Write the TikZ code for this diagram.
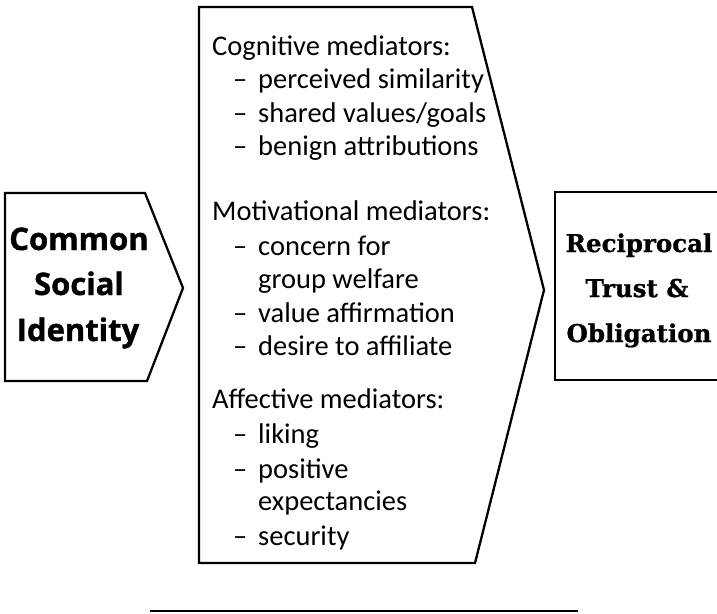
\documentclass[tikz,border=0pt]{standalone}
\usepackage{fontspec}
\setmainfont{Carlito}
\newfontfamily\labelsans[BoldFeatures={FakeBold=1.2}]{Open Sans}
\newfontfamily\labelserif[BoldFeatures={FakeBold=1}]{DejaVu Serif}
\newcommand{\medash}{\makebox[25pt][l]{--}}
\begin{document}
\begin{tikzpicture}[x=1pt, y=-1pt,
    boxline/.style={draw, line width=2.3pt, line join=miter},
    mainlabel/.style={anchor=base, inner sep=0pt, font=\labelsans\bfseries\fontsize{31}{45}\selectfont},
    endlabel/.style={anchor=base, inner sep=0pt, font=\labelserif\bfseries\fontsize{24.5}{45}\selectfont},
    medhead/.style={anchor=base west, inner sep=0pt, font=\fontsize{28.5}{33}\selectfont},
    ]
    \useasboundingbox (0,0) rectangle (717,613);
    \clip (0,0) rectangle (717,613);
    % outlines
    \draw[boxline] (5,193) -- (145,193) -- (183,288) -- (147,381) -- (5,381) -- cycle;
    \draw[boxline] (199,7) -- (472,7) -- (544,290) -- (475,563) -- (199,563) -- cycle;
    \draw[boxline] (730,192) -- (555,192) -- (555,380) -- (730,380);
    \coordinate (rulestart) at (150,611);
    \coordinate (ruleend) at (578,611);
    \draw[line width=2.3pt] (rulestart) -- (ruleend);
    % left label
    \node[mainlabel] (common) at (79,250) {Common};
    \node[mainlabel] (social) at (79,295) {Social};
    \node[mainlabel] (identity) at (78,341) {Identity};
    % mediators
    \node[medhead] (cog) at (212,55) {Cognitive mediators:};
    \node[medhead] (cog1) at (233,88) {\medash perceived similarity};
    \node[medhead] (cog2) at (233,122) {\medash shared values/goals};
    \node[medhead] (cog3) at (233,155) {\medash benign attributions};
    \node[medhead] (mot) at (212,220) {Motivational mediators:};
    \node[medhead] (mot1) at (233,255) {\medash concern for};
    \node[medhead] (mot1b) at (258,288) {group welfare};
    \node[medhead] (mot2) at (233,322) {\medash value affirmation};
    \node[medhead] (mot3) at (233,355) {\medash desire to affiliate};
    \node[medhead] (aff) at (212,408) {Affective mediators:};
    \node[medhead] (aff1) at (233,443) {\medash liking};
    \node[medhead] (aff2) at (233,478) {\medash positive};
    \node[medhead] (aff2b) at (258,510) {expectancies};
    \node[medhead] (aff3) at (233,545) {\medash security};
    % right label
    \node[endlabel] (reciprocal) at (639,252) {Reciprocal};
    \node[endlabel] (trust) at (637,297) {Trust \&};
    \node[endlabel] (obligation) at (639,342) {Obligation};
\end{tikzpicture}
\end{document}
